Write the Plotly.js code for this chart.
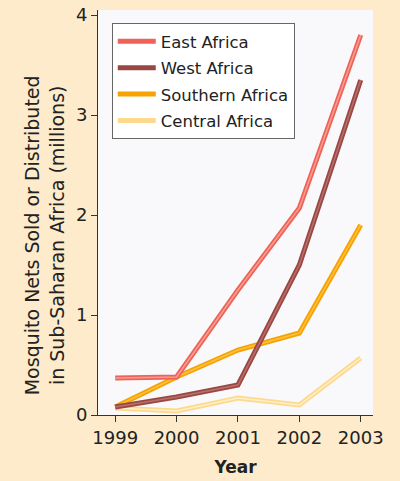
<!DOCTYPE html>
<html><head><meta charset="utf-8">
<script src="https://cdn.plot.ly/plotly-3.0.1.min.js"></script>
<style>html,body{margin:0;padding:0;background:#fdebcb;}#c{width:400px;height:481px;}</style>
</head><body><div id="c"></div>
<script>
const years = [1999, 2000, 2001, 2002, 2003];
const eastAfrica = [0.37, 0.38, 1.25, 2.07, 3.8];
const westAfrica = [0.08, 0.18, 0.30, 1.50, 3.35];
const southernAfrica = [0.08, 0.38, 0.65, 0.82, 1.90];
const centralAfrica = [0.07, 0.04, 0.17, 0.10, 0.57];
const names = ['East Africa', 'West Africa', 'Southern Africa', 'Central Africa'];
const series = [eastAfrica, westAfrica, southernAfrica, centralAfrica];
const colors = ['#ee6259', '#9a4744', '#f6a200', '#fdd98e'];
const hi = ['#f7a08f', '#b8706a', '#ffc040', '#fff0c8'];
const yTitle = 'Mosquito Nets Sold or Distributed<br>in Sub-Saharan Africa (millions)';

const traces = [];
series.forEach((s, i) => {
  traces.push({x: years, y: s, name: names[i], legendgroup: 'g' + i, legendrank: i + 1,
    type: 'scatter', mode: 'lines', line: {color: colors[i], width: 5}});
});
series.forEach((s, i) => {
  traces.push({x: years, y: s, showlegend: false, legendgroup: 'g' + i, hoverinfo: 'skip',
    type: 'scatter', mode: 'lines', line: {color: hi[i], width: 1.5}});
});
const order = [3, 2, 1, 0];
const data = [];
order.forEach(i => { data.push(traces[i]); data.push(traces[i + 4]); });

const F = 'DejaVu Sans, sans-serif';
const layout = {
  width: 400, height: 481,
  paper_bgcolor: '#fdebcb', plot_bgcolor: '#f9f9fb',
  margin: {l: 98, r: 27, t: 10, b: 66},
  font: {family: F, color: '#222', size: 15},
  showlegend: true,
  legend: {x: 0.05, y: 0.968, xanchor: 'left', yanchor: 'top', bgcolor: '#ffffff',
    bordercolor: '#666', borderwidth: 1, font: {family: F, size: 16.5, color: '#222'},
    traceorder: 'grouped', tracegroupgap: 2, itemwidth: 38},
  xaxis: {range: [1998.72, 2003.2], tickvals: years, ticktext: years.map(String),
    showgrid: false, zeroline: false, showline: true, linecolor: '#333', linewidth: 1,
    ticks: 'outside', ticklen: 6, tickcolor: '#333', tickfont: {family: F, size: 18, color: '#222'},
    title: {text: '<b>Year</b>', font: {family: F, size: 17, color: '#222'}, standoff: 14}},
  yaxis: {range: [0, 4.05], tickvals: [0, 1, 2, 3, 4], showgrid: false, zeroline: false,
    showline: true, linecolor: '#333', linewidth: 1, ticks: 'outside', ticklen: 6, tickcolor: '#333',
    tickfont: {family: F, size: 18, color: '#222'}},
  annotations: [{text: yTitle, xref: 'paper', yref: 'paper', x: -0.196, y: 0.444,
    xanchor: 'center', yanchor: 'middle', textangle: -90, showarrow: false,
    font: {family: F, size: 19, color: '#222'}}]
};
Plotly.newPlot('c', data, layout, {displayModeBar: false, staticPlot: true});
</script></body></html>
